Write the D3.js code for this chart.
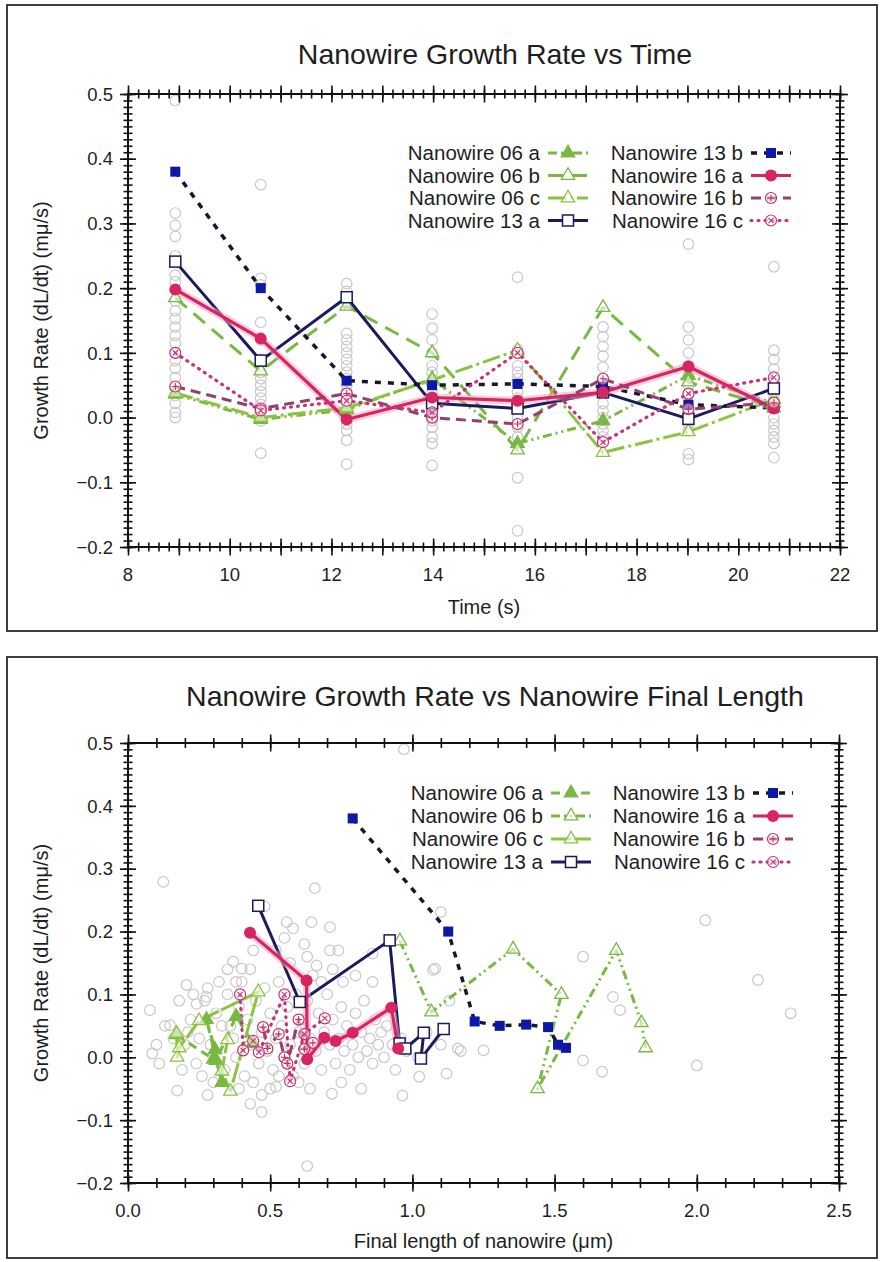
<!DOCTYPE html>
<html><head><meta charset="utf-8">
<script src="https://cdn.jsdelivr.net/npm/d3@7"></script>
<style>
body{margin:0;background:#fff}
svg{display:block}
text{font-family:"Liberation Sans",Arial,Helvetica,sans-serif;fill:#1e1e1e}
</style>
</head><body>
<svg id="c" width="883" height="1262"></svg>
<script>
// ---- data -------------------------------------------------------------
const seriesNames = ["Nanowire 06 a","Nanowire 06 b","Nanowire 06 c","Nanowire 13 a",
                     "Nanowire 13 b","Nanowire 16 a","Nanowire 16 b","Nanowire 16 c"];
const times = [8.93,10.61,12.30,13.98,15.66,17.34,19.02,20.70];

// growth rate (dL/dt) per time step, one array per nanowire
const rate06a = [0.036,-0.003,0.012,0.060,-0.040,-0.005,0.065,0.022];
const rate06b = [0.185,0.072,0.172,0.100,-0.050,0.170,0.055,0.015];
const rate06c = [0.038,0.000,0.015,0.058,0.104,-0.054,-0.022,0.028];
const rate13a = [0.241,0.088,0.186,0.022,0.014,0.039,-0.002,0.045];
const rate13b = [0.380,0.200,0.057,0.050,0.052,0.048,0.020,0.015];
const rate16a = [0.198,0.122,-0.003,0.031,0.026,0.039,0.079,0.014];
const rate16b = [0.048,0.014,0.037,0.000,-0.010,0.060,0.013,0.023];
const rate16c = [0.100,0.011,0.026,0.008,0.100,-0.038,0.037,0.062];

// nanowire length at each time step (um)
const len06a = [0.170,0.300,0.306,0.276,0.330,0.310,0.380,0.440];
const len06b = [0.956,1.067,1.354,1.524,1.440,1.717,1.805,1.820];
const len06c = [0.171,0.173,0.180,0.250,0.458,0.360,0.330,0.350];
const len13a = [0.458,0.604,0.920,0.955,0.975,1.040,1.030,1.110];
const len13b = [0.790,1.126,1.219,1.307,1.400,1.477,1.512,1.540];
const len16a = [0.429,0.628,0.630,0.690,0.730,0.790,0.926,0.950];
const len16b = [0.475,0.490,0.530,0.550,0.560,0.600,0.620,0.650];
const len16c = [0.394,0.405,0.440,0.460,0.550,0.570,0.620,0.692];

// all other nanowires, growth rate at each time step
const greyByTime = [
  [0.49,0.316,0.297,0.28,0.25,0.22,0.21,0.18,0.165,0.153,0.14,0.127,0.115,0.10,0.088,0.076,0.062,0.046,0.034,0.022,0.008,0.0],
  [0.36,0.215,0.205,0.147,0.12,0.09,0.08,0.07,0.06,0.05,0.04,0.03,0.02,0.01,0.0,-0.005,-0.055],
  [0.207,0.195,0.18,0.13,0.12,0.11,0.10,0.09,0.08,0.07,0.06,0.05,0.04,0.03,0.02,0.01,0.0,-0.01,-0.02,-0.035,-0.072],
  [0.16,0.138,0.12,0.10,0.08,0.07,0.055,0.04,0.026,0.015,0.005,-0.005,-0.015,-0.03,-0.04,-0.074],
  [0.217,0.105,0.08,0.07,0.06,0.053,0.04,0.03,0.015,0.0,-0.015,-0.03,-0.093,-0.175],
  [0.14,0.125,0.11,0.095,0.078,0.06,0.045,0.022,0.01,0.0,-0.01,-0.02,-0.03],
  [0.268,0.14,0.12,0.10,0.08,0.065,0.05,0.035,0.02,0.005,-0.01,-0.02,-0.056,-0.065],
  [0.233,0.104,0.09,0.075,0.06,0.045,0.03,0.015,0.0,-0.01,-0.02,-0.03,-0.04,-0.062]
];
// other nanowires: length (um) and growth rate
const greyLen  = [0.124,0.657,0.558,0.580,0.645,0.710,0.710,0.663,0.370,0.400,0.430,0.206,0.241,0.276,0.148,0.077,0.756,0.800,0.860,1.080,1.100,0.970,
                  1.073,2.030,1.600,1.705,1.730,2.215,2.330,0.085,0.173,0.430,0.470,0.630,0.717,0.965,1.024,1.120,1.160,1.600,1.667,2.000,1.250,0.520,
                  0.20,0.22,0.24,0.25,0.27,0.29,0.31,0.33,0.34,0.35,0.37,0.38,0.39,0.41,0.42,0.43,0.45,0.46,0.47,0.48,0.49,0.50,0.51,0.52,0.53,0.54,
                  0.55,0.56,0.57,0.58,0.59,0.60,0.61,0.62,0.63,0.64,0.65,0.66,0.67,0.68,0.69,0.70,0.71,0.72,0.73,0.74,0.75,0.76,0.77,0.78,0.79,0.80,
                  0.81,0.82,0.83,0.84,0.85,0.86,0.87,0.88,0.89,0.90,0.91,0.93,0.94,0.96,0.98,
                  0.26,0.30,0.36,0.40,0.44,0.50,0.53,0.57,0.60,0.63,0.68,0.72,0.62,0.52,0.44,0.38,0.32,0.28,0.23,0.18,0.16,0.13,0.10,0.11,0.19,0.21,
                  0.28,0.39,0.47,0.64,0.75,0.82,1.02,1.05,1.10,1.13,1.17,0.48,0.55,0.35,0.74,0.86];
const greyRate = [0.279,0.269,0.215,0.205,0.215,0.207,0.170,0.146,0.152,0.141,0.140,0.115,0.085,0.096,0.051,0.075,0.120,0.130,0.165,0.141,0.231,0.490,
                  0.139,0.218,0.160,0.096,0.075,0.123,0.070,0.006,-0.053,-0.074,-0.087,-0.173,-0.058,-0.061,-0.031,-0.026,0.014,-0.005,-0.023,-0.013,0.011,-0.047,
                  0.02,0.06,-0.01,0.03,0.09,0.02,0.07,0.05,-0.02,0.10,0.03,0.00,0.08,-0.03,0.06,0.02,0.09,-0.01,0.04,0.11,0.01,0.07,-0.02,0.03,0.12,0.05,
                  0.00,0.08,0.02,-0.03,0.10,0.04,0.06,-0.01,0.09,0.03,0.13,0.01,0.07,-0.02,0.04,0.10,0.02,0.06,-0.01,0.03,0.08,0.01,0.05,-0.02,0.02,0.07,
                  0.00,0.04,0.09,0.01,0.03,-0.01,0.06,0.02,0.04,0.00,0.05,0.02,-0.02,0.03,0.01,
                  -0.03,-0.04,0.05,0.12,-0.04,-0.05,-0.03,0.15,-0.04,0.16,0.12,0.14,0.18,0.17,0.17,0.12,0.12,0.11,0.10,0.09,0.03,0.05,0.02,-0.01,-0.02,0.04,
                  -0.06,-0.05,-0.06,-0.05,-0.04,-0.05,0.00,0.04,0.02,0.09,0.01,0.24,0.19,0.14,0.17,0.12];

// axis tick values
const timeTickLabels = [8,10,12,14,16,18,20,22];
const lenTickLabels  = [0,0.5,1.0,1.5,2.0,2.5];
const rateTickLabels = [-0.2,-0.1,0.0,0.1,0.2,0.3,0.4,0.5];

// ---- styles -----------------------------------------------------------
const GREEN = "#78b843", GREEN2 = "#8cc43f", NAVY = "#1a1a5c", BLUE = "#0c18a8",
      DARK = "#16162c", CRIMSON = "#d7255f", MAROON = "#94406a", MAGENTA = "#c2347a";

const topStyle = [
  {color:GREEN,  dash:"9,4,2,4,2,4", w:3,   marker:"triFill"},
  {color:GREEN,  dash:"15,9",        w:3,   marker:"triOpen"},
  {color:GREEN2, dash:"18,4,3,4",    w:3,   marker:"triOpen"},
  {color:NAVY,   dash:null,          w:3,   marker:"sqOpen"},
  {color:DARK,   dash:"6,7",         w:3.5, marker:"sqFill", mcolor:BLUE},
  {color:CRIMSON,dash:null,          w:3.2, marker:"circFill", halo:true},
  {color:MAROON, dash:"10,6",        w:3,   marker:"circPlus", mcolor:"#c2325e"},
  {color:MAGENTA,dash:"1,6",         w:3.2, marker:"circX", cap:"round"}
];
const botStyle = [
  {color:GREEN,  dash:"9,6",         w:3,   marker:"triFill"},
  {color:GREEN,  dash:"9,4,2,4,2,4", w:3,   marker:"triOpen"},
  {color:GREEN2, dash:"20,3",        w:3,   marker:"triOpen"},
  {color:NAVY,   dash:null,          w:3,   marker:"sqOpen"},
  {color:DARK,   dash:"6,7",         w:3.5, marker:"sqFill", mcolor:BLUE},
  {color:CRIMSON,dash:null,          w:3.2, marker:"circFill", halo:true},
  {color:MAROON, dash:"10,6",        w:3,   marker:"circPlus", mcolor:"#c2325e"},
  {color:MAGENTA,dash:"1,6",         w:3.2, marker:"circX", cap:"round"}
];

const rates = [rate06a,rate06b,rate06c,rate13a,rate13b,rate16a,rate16b,rate16c];
const lens  = [len06a,len06b,len06c,len13a,len13b,len16a,len16b,len16c];

const svg = d3.select("#c");

function marker(g, type, cx, cy, color){
  const t = `translate(${cx},${cy})`;
  if (type === "triFill" || type === "triOpen") {
    g.append("path").attr("d", d3.symbol(d3.symbolTriangle, 78)()).attr("transform", t)
      .attr("fill", type === "triFill" ? color : "#fff").attr("fill-opacity", type === "triFill" ? 1 : 0.6)
      .attr("stroke", color).attr("stroke-width", 1.3);
  } else if (type === "sqFill") {
    g.append("rect").attr("x", cx-5).attr("y", cy-5).attr("width", 10).attr("height", 10).attr("fill", color);
  } else if (type === "sqOpen") {
    g.append("rect").attr("x", cx-5.5).attr("y", cy-5.5).attr("width", 11).attr("height", 11)
      .attr("fill", "#fff").attr("stroke", color).attr("stroke-width", 1.5);
  } else if (type === "circFill") {
    g.append("circle").attr("cx", cx).attr("cy", cy).attr("r", 6).attr("fill", color);
  } else {
    g.append("circle").attr("cx", cx).attr("cy", cy).attr("r", 5.5)
      .attr("fill", "#fff").attr("fill-opacity", 0.5).attr("stroke", color).attr("stroke-width", 1.2);
    const d = type === "circPlus" ? "M-3.5,0H3.5M0,-3.5V3.5" : "M-2.6,-2.6L2.6,2.6M-2.6,2.6L2.6,-2.6";
    g.append("path").attr("d", d).attr("transform", t).attr("stroke", color).attr("stroke-width", 1.1);
  }
}

function ticksOn(g, axis, pos, transform, len){
  const a = g.append("g").attr("transform", transform).call(axis);
  a.select(".domain").remove();
  a.selectAll(".tick text").remove();
  const horizontal = (pos === "h");
  a.selectAll(".tick line").attr("stroke", "#111").attr("stroke-width", 1.6)
    .attr(horizontal ? "y1" : "x1", -len).attr(horizontal ? "y2" : "x2", len);
}

function drawChart(cfg){
  const g = svg.append("g");
  const x = d3.scaleLinear().domain(cfg.xDomain).range(cfg.xRange);
  const y = d3.scaleLinear().domain([-0.2, 0.5]).range(cfg.yRange);
  const [x0, x1] = cfg.xRange, [y0, y1] = cfg.yRange;

  // outer frame
  g.append("rect").attr("x", cfg.frame[0]).attr("y", cfg.frame[1]).attr("width", cfg.frame[2]).attr("height", cfg.frame[3])
    .attr("fill", "#fff").attr("stroke", "#2a2a2a").attr("stroke-width", 1.8);

  // title
  g.append("text").attr("x", 495).attr("y", cfg.titleY).attr("text-anchor", "middle")
    .attr("font-size", 28.5).text(cfg.title);

  // other nanowires (grey open circles)
  const gg = g.append("g").attr("fill", "none").attr("stroke", "#c8c8c8").attr("stroke-width", 1.2);
  cfg.grey.forEach(([gx, gy]) => gg.append("circle").attr("cx", x(gx)).attr("cy", y(gy)).attr("r", 5.3));

  // series lines
  const line = d3.line().x(d => x(d[0])).y(d => y(d[1]));
  cfg.series.forEach((s, i) => {
    const st = cfg.style[i];
    if (st.halo) g.append("path").attr("d", line(s)).attr("fill", "none").attr("stroke", "#f7a8c8")
      .attr("stroke-width", 8).attr("stroke-opacity", 0.55).attr("stroke-linejoin", "round");
    g.append("path").attr("d", line(s)).attr("fill", "none").attr("stroke", st.color)
      .attr("stroke-width", st.w).attr("stroke-dasharray", st.dash)
      .attr("stroke-linecap", st.cap || "butt").attr("stroke-linejoin", "round");
  });
  cfg.series.forEach((s, i) => {
    const st = cfg.style[i];
    s.forEach(d => marker(g, st.marker, x(d[0]), y(d[1]), st.mcolor || st.color));
  });

  // axes frame lines
  g.append("rect").attr("x", x0).attr("y", y1).attr("width", x1 - x0).attr("height", y0 - y1)
    .attr("fill", "none").attr("stroke", "#111").attr("stroke-width", 2);

  const yMinor = d3.range(-20, 51).map(v => v / 100);
  const yMajor = rateTickLabels;
  ticksOn(g, d3.axisLeft(y).tickValues(yMinor).tickSize(0), "v", `translate(${x0},0)`, 4.5);
  ticksOn(g, d3.axisLeft(y).tickValues(yMajor).tickSize(0), "v", `translate(${x0},0)`, 8);
  ticksOn(g, d3.axisRight(y).tickValues(yMinor).tickSize(0), "v", `translate(${x1},0)`, 4.5);
  ticksOn(g, d3.axisRight(y).tickValues(yMajor).tickSize(0), "v", `translate(${x1},0)`, 8);
  ticksOn(g, d3.axisBottom(x).tickValues(cfg.xMinor).tickSize(0), "h", `translate(0,${y0})`, cfg.minorLen);
  ticksOn(g, d3.axisBottom(x).tickValues(cfg.xMajor).tickSize(0), "h", `translate(0,${y0})`, 8.5);
  ticksOn(g, d3.axisTop(x).tickValues(cfg.xMinor).tickSize(0), "h", `translate(0,${y1})`, cfg.minorLen);
  ticksOn(g, d3.axisTop(x).tickValues(cfg.xMajor).tickSize(0), "h", `translate(0,${y1})`, 8.5);

  // tick labels
  g.append("g").selectAll("text").data(rateTickLabels).join("text")
    .attr("x", x0 - 15).attr("y", d => y(d)).attr("dy", "0.36em").attr("text-anchor", "end")
    .attr("font-size", 18.5).text(d => d3.format(".1f")(d));
  g.append("g").selectAll("text").data(cfg.xLabels).join("text")
    .attr("x", d => x(d)).attr("y", y0 + 27).attr("dy", "0.36em").attr("text-anchor", "middle")
    .attr("font-size", 18.5).text(cfg.xFormat);

  // axis titles
  g.append("text").attr("x", (x0 + x1) / 2).attr("y", cfg.xTitleY).attr("dy", "0.36em").attr("text-anchor", "middle")
    .attr("font-size", 20).text(cfg.xTitle);
  g.append("text").attr("transform", `translate(41,${(y0 + y1) / 2}) rotate(-90)`).attr("dy", "0.36em")
    .attr("text-anchor", "middle").attr("font-size", 20).text("Growth Rate (dL/dt) (mμ/s)");

  // legend
  cfg.style.forEach((st, i) => {
    const col = Math.floor(i / 4), row = i % 4;
    const tx = cfg.legend.textX[col], ty = cfg.legend.y + row * cfg.legend.dy;
    g.append("text").attr("x", tx).attr("y", ty).attr("dy", "0.36em").attr("text-anchor", "end")
      .attr("font-size", 20.5).text(seriesNames[i]);
    const sx = tx + 8, ex = tx + 48;
    g.append("path").attr("d", `M${sx},${ty}H${ex}`).attr("stroke", st.color).attr("stroke-width", st.w)
      .attr("stroke-dasharray", st.dash).attr("stroke-linecap", st.cap || "butt").attr("fill", "none");
    marker(g, st.marker, (sx + ex) / 2, ty, st.mcolor || st.color);
  });
}

const greyTop = [];
greyByTime.forEach((col, i) => col.forEach(v => greyTop.push([times[i], v])));
const greyBot = greyLen.map((l, i) => [l, greyRate[i]]);

drawChart({
  title: "Nanowire Growth Rate vs Time", titleY: 64,
  frame: [7, 5, 870, 626],
  xDomain: [8, 22], xRange: [128, 840], yRange: [547, 94],
  xMinor: d3.range(40, 111).map(v => v / 5), xMajor: d3.range(8, 23), minorLen: 4.5,
  xLabels: timeTickLabels, xFormat: d => d, xTitle: "Time (s)", xTitleY: 607,
  grey: greyTop,
  series: rates.map(r => r.map((v, i) => [times[i], v])),
  style: topStyle,
  legend: {textX: [540, 743], y: 153, dy: 22.5}
});

drawChart({
  title: "Nanowire Growth Rate vs Nanowire Final Length", titleY: 706,
  frame: [7, 657, 870, 601],
  xDomain: [0, 2.5], xRange: [128, 839], yRange: [1183, 743],
  xMinor: d3.range(0, 26).map(v => v / 10), xMajor: d3.range(0, 6).map(v => v / 2), minorLen: 5,
  xLabels: lenTickLabels, xFormat: d => d3.format(".1f")(d), xTitle: "Final length of nanowire (μm)", xTitleY: 1241,
  grey: greyBot,
  series: lens.map((l, k) => l.map((v, i) => [v, rates[k][i]])),
  style: botStyle,
  legend: {textX: [543, 745], y: 793, dy: 23}
});
</script>
</body></html>
